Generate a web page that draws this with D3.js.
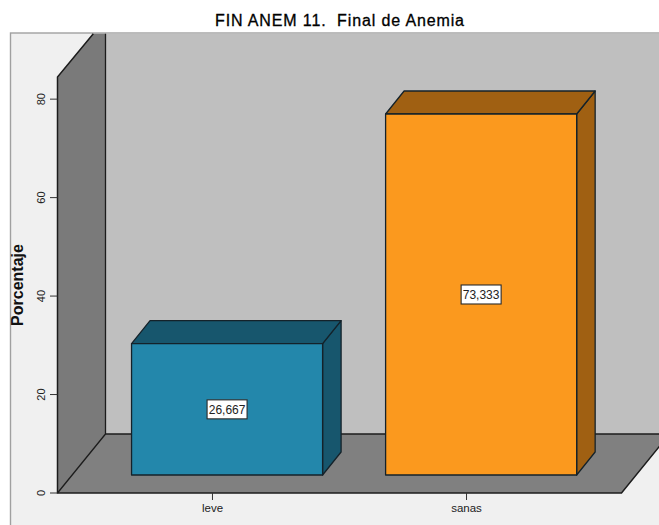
<!DOCTYPE html>
<html>
<head>
<meta charset="utf-8">
<script src="https://cdn.jsdelivr.net/npm/d3@7"></script>
<style>
  html, body { margin: 0; padding: 0; background: #fff; }
  svg { display: block; }
  text { font-family: "Liberation Sans", Arial, sans-serif; }
</style>
</head>
<body>
<svg id="chart" width="659" height="525"></svg>
<script>
const categories = ["leve", "sanas"];
const percentages = [26.667, 73.333];
const valueTicks = [0, 20, 40, 60, 80];
const barFaces = ["#2387ab", "#fb991e"];
const barShades = ["#17566d", "#a06012"];
const chartTitle = "FIN ANEM 11.  Final de Anemia";
const valueTitle = "Porcentaje";

const W = 659, H = 525;
const frame = { left: 10.5, top: 33 };
const axisLeft = 57.5, axisRight = 621.5, baseY = 493;
const wallDepth = { x: 48, y: -59 };    // floor and wall recede by this much
const barInset = { x: 14.6, y: -18 };   // bars stand this far behind the front edge
const barDepth = { x: 18.5, y: -23 };   // thickness of each bar

const svg = d3.select("#chart");

const y = d3.scaleLinear().domain([0, 84.5]).range([baseY, 77]);
const x = d3.scaleBand()
  .domain(categories)
  .range([axisLeft, axisRight])
  .paddingInner(0.248)
  .paddingOuter(0.234);

const poly = (pts, fill, stroke, width) => svg.append("path")
  .attr("d", d3.line()(pts) + "Z")
  .attr("fill", fill)
  .attr("stroke", stroke || "none")
  .attr("stroke-width", width || 1.3)
  .attr("stroke-linejoin", "round");

// Panel background with its thin border
svg.append("rect")
  .attr("x", frame.left).attr("y", frame.top)
  .attr("width", W - frame.left + 5).attr("height", H - frame.top + 5)
  .attr("fill", "#f0f0f0").attr("stroke", "#a0a0a0").attr("stroke-width", 1.4);

const wallTopY = y(y.domain()[1]);
const backX = axisLeft + wallDepth.x, backY = baseY + wallDepth.y;
const clipX = axisLeft + (wallTopY - frame.top) * wallDepth.x / -wallDepth.y;

// Back wall
svg.append("rect")
  .attr("x", backX).attr("y", frame.top + 0.7)
  .attr("width", W - backX).attr("height", backY - frame.top)
  .attr("fill", "#bfbfbf");

// Left wall, clipped by the top of the panel
poly([
  [axisLeft, baseY], [axisLeft, wallTopY],
  [clipX, frame.top + 0.7],
  [backX, frame.top + 0.7], [backX, backY]
], "#7a7a7a");

// Floor
poly([
  [axisLeft, baseY], [axisRight, baseY],
  [axisRight + wallDepth.x, backY], [backX, backY]
], "#808080");

// Structural edges of the walls and floor
const edge = "#1c1c1c";
svg.append("path")
  .attr("d", d3.line()([
    [clipX, frame.top + 0.7],
    [axisLeft, wallTopY], [axisLeft, baseY], [axisRight, baseY],
    [axisRight + wallDepth.x, backY]
  ]))
  .attr("fill", "none").attr("stroke", edge).attr("stroke-width", 1.5);
svg.append("path")
  .attr("d", `M${backX},${frame.top + 0.7}V${backY}M${axisLeft},${baseY}L${backX},${backY}H${W}`)
  .attr("fill", "none").attr("stroke", edge).attr("stroke-width", 1.3);

// Bars: side, top, then front face
categories.forEach((c, i) => {
  const v = percentages[i];
  const x0 = x(c) + barInset.x, x1 = x0 + x.bandwidth();
  const y0 = baseY + barInset.y;
  const y1 = y(v) + barInset.y;
  const dx = barDepth.x, dy = barDepth.y;
  const line = "#14222a";
  poly([[x1, y0], [x1 + dx, y0 + dy], [x1 + dx, y1 + dy], [x1, y1]], barShades[i], line);
  poly([[x0, y1], [x0 + dx, y1 + dy], [x1 + dx, y1 + dy], [x1, y1]], barShades[i], line);
  poly([[x0, y0], [x1, y0], [x1, y1], [x0, y1]], barFaces[i], line);

  // Value label centred on the front face
  const cx = (x0 + x1) / 2, cy = (y0 + y1) / 2;
  svg.append("rect")
    .attr("x", cx - 20).attr("y", cy - 9.5)
    .attr("width", 40).attr("height", 19)
    .attr("fill", "#fff").attr("stroke", "#2a2a2a").attr("stroke-width", 1.1);
  svg.append("text")
    .attr("x", cx).attr("y", cy + 4.2)
    .attr("text-anchor", "middle")
    .attr("font-size", 12).attr("fill", "#222")
    .text(String(v).replace(".", ","));
});

// Value axis ticks and rotated labels
const yTicks = svg.append("g").selectAll("g").data(valueTicks).join("g")
  .attr("transform", d => `translate(${axisLeft},${y(d)})`);
yTicks.append("line")
  .attr("x1", -7.5).attr("x2", 0).attr("stroke", "#333").attr("stroke-width", 1);
yTicks.append("text")
  .attr("transform", "translate(-12.5,0) rotate(-90)")
  .attr("text-anchor", "middle")
  .attr("font-size", 11).attr("fill", "#222")
  .text(d => d);

// Category axis ticks and labels
const xTicks = svg.append("g").selectAll("g").data(categories).join("g")
  .attr("transform", d => `translate(${x(d) + x.bandwidth() / 2},${baseY})`);
xTicks.append("line")
  .attr("y1", 0).attr("y2", 7).attr("stroke", "#333").attr("stroke-width", 1);
xTicks.append("text")
  .attr("y", 19)
  .attr("text-anchor", "middle")
  .attr("font-size", 11.5).attr("fill", "#222")
  .text(d => d);

// Axis title and chart title
svg.append("text")
  .attr("transform", "translate(22.5,285) rotate(-90)")
  .attr("text-anchor", "middle")
  .attr("font-size", 16).attr("font-weight", "bold").attr("fill", "#111")
  .text(valueTitle);
svg.append("text")
  .attr("x", 339.5).attr("y", 26)
  .attr("text-anchor", "middle")
  .style("white-space", "pre")
  .attr("font-size", 16).attr("fill", "#000")
  .attr("stroke", "#000").attr("stroke-width", 0.3)
  .attr("textLength", 249).attr("lengthAdjust", "spacing")
  .text(chartTitle);
</script>
</body>
</html>
